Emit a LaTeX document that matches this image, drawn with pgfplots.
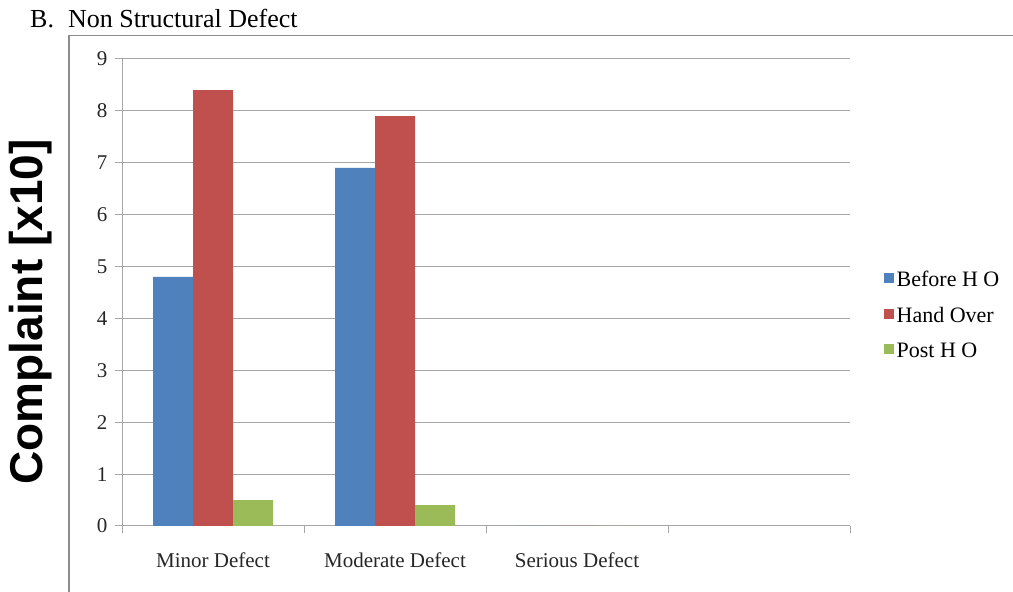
\documentclass[border=0pt]{standalone}
\usepackage{fontspec}
\setmainfont{Liberation Serif}
\newfontfamily\sansfont{Liberation Sans}
\usepackage{pgfplots}
\pgfplotsset{compat=1.18}
\definecolor{serA}{HTML}{4F81BD}
\definecolor{serB}{HTML}{C0504D}
\definecolor{serC}{HTML}{9BBB59}
\definecolor{gridc}{HTML}{A6A6A6}
\definecolor{framec}{HTML}{8C8C8C}

\begin{document}
\begin{tikzpicture}[x=1bp,y=1bp]
\useasboundingbox (0,0) rectangle (1013,592);
% outer chart frame
\draw[framec, line width=1.6bp] (69,-5) -- (69,556.5) -- (1020,556.5);
% heading
\node[anchor=base west, inner sep=0pt, font=\fontsize{26bp}{30bp}\selectfont]
  at (30,564) {B.\hspace{14bp}Non Structural Defect};
% value axis caption
\node[rotate=90, inner sep=0pt, font=\sansfont\bfseries\fontsize{46bp}{50bp}\selectfont]
  at (31,280) {Complaint [x10]};
\begin{axis}[
  at={(122bp,66bp)}, anchor=south west,
  scale only axis, width=728bp, height=467bp,
  xmin=-0.5, xmax=3.5, ymin=0, ymax=9,
  axis x line*=bottom, axis y line*=left,
  axis line style={gridc, line width=1bp},
  ybar=0pt, bar width=40bp,
  ytick={0,1,...,9},
  ymajorgrids, grid style={gridc, line width=1bp},
  xtick={0,1,2,3},
  xticklabels={Minor Defect, Moderate Defect, Serious Defect, {}},
  minor xtick={-0.5,0.5,1.5,2.5,3.5},
  tick align=outside,
  major tick length=7bp, minor tick length=7bp,
  x tick style={draw=none},
  minor x tick style={draw=gridc, line width=1bp},
  y tick style={draw=gridc, line width=1bp},
  /pgf/number format/assume math mode=true,
  ticklabel style={font=\fontsize{21bp}{24bp}\selectfont, text=black!85},
  xticklabel style={yshift=-16bp},
  yticklabel style={xshift=-4bp},
  legend style={at={(1.046,0.4475)}, anchor=west, draw=none, fill=none,
    inner sep=0pt, row sep=15.5bp, column sep=3bp,
    font=\fontsize{22bp}{25bp}\selectfont,
    nodes={inner sep=0pt, text height=15bp, text depth=5bp}},
  legend cell align=left,
  legend image code/.code={\fill (0bp,-1.5bp) rectangle (10bp,8.5bp);},
]
\addplot[fill=serA, draw=none] coordinates {(0,4.8) (1,6.9) (2,0)};
\addplot[fill=serB, draw=none] coordinates {(0,8.4) (1,7.9) (2,0)};
\addplot[fill=serC, draw=none] coordinates {(0,0.5) (1,0.4) (2,0)};
\legend{Before H O, Hand Over, Post H O}
\end{axis}
\end{tikzpicture}
\end{document}
